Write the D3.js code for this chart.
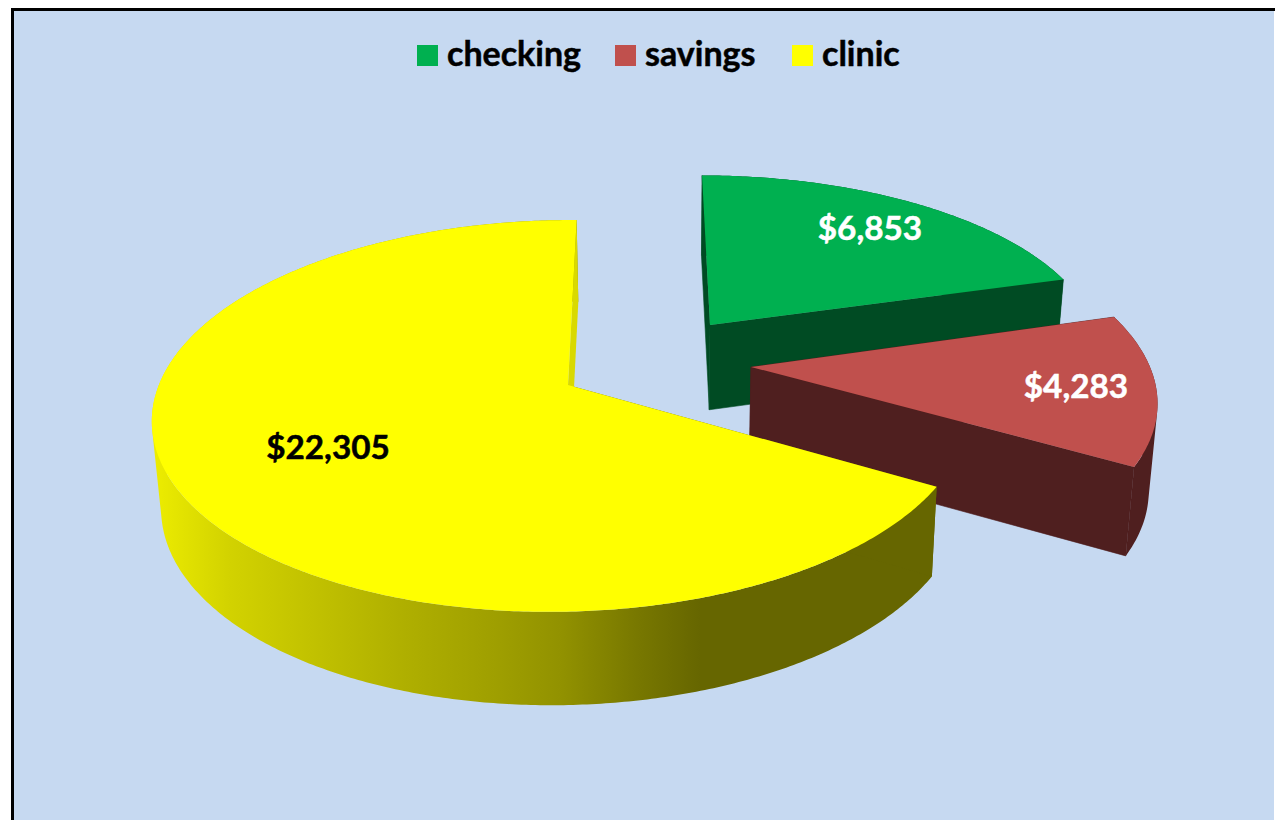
<!DOCTYPE html>
<html>
<head>
<meta charset="utf-8">
<script src="https://d3js.org/d3.v7.min.js"></script>
<style>
  html, body { margin: 0; padding: 0; background: #fff; }
  svg { display: block; }
  text { font-family: Lato, "Open Sans", sans-serif; font-weight: 700; stroke-width: 0.5; paint-order: stroke; }
</style>
</head>
<body>
<div id="chart"></div>
<script>
const categories = ["checking", "savings", "clinic"];
const values = [6853, 4283, 22305];
const colors = ["#00b050", "#c0504d", "#ffff00"];
const wallColors = ["#004b23", "#4f1f1f", "#666600"];
const labelColors = ["#ffffff", "#ffffff", "#000000"];

const width = 1275;
const height = 820;

const svg = d3.select("#chart")
    .append("svg")
    .attr("width", width)
    .attr("height", height);

// Background and the two visible frame lines
svg.append("rect").attr("width", width).attr("height", height).attr("fill", "#fff");
svg.append("rect")
    .attr("x", 12).attr("y", 9)
    .attr("width", 1262).attr("height", 811)
    .attr("fill", "#c6d9f1");
svg.append("path")
    .attr("d", "M12.5,820V9.5H1275")
    .attr("fill", "none")
    .attr("stroke", "#000")
    .attr("stroke-width", 3);

// Shaded side of the clinic slice
const defs = svg.append("defs");
const grad = defs.append("linearGradient")
    .attr("id", "clinicSide")
    .attr("gradientUnits", "userSpaceOnUse")
    .attr("x1", 150).attr("x2", 937).attr("y1", 0).attr("y2", 0);
[[155, "#ecec00"], [230, "#d2d200"], [300, "#c4c400"], [400, "#b0b000"], [500, "#9e9e00"], [560, "#929200"], [640, "#777700"], [700, "#666600"], [937, "#666600"]]
    .forEach(([x, c]) => grad.append("stop").attr("offset", (x - 150) / 787).attr("stop-color", c));

// Each exploded slice has its own perspective fit
const views = [
    { ax: 710, ay: 325, rx: 384, ry: 169, sx: 9, k: 0.13, m: 0 },
    { ax: 751, ay: 367, rx: 399, ry: 186, sx: 19, k: 0.145, m: 0 },
    { ax: 568, ay: 385, rx: 403, ry: 191, sx: -10, k: 0.158, m: 0.015 }
];

// Bottom rim: pulled towards a vanishing x, and deeper lower down the page
const vanishX = 670;
const shrink = 0.018;
const depthAt = y => 75 + 0.03 * y;
const lower = ([x, y]) => [x + (vanishX - x) * shrink, y + depthAt(y)];

function rim(v, a) {
    const X = Math.sin(a), Y = -Math.cos(a);
    const w = 1 - v.k * Y + v.m * X;
    return [v.ax + (v.rx * X + v.sx * Y) / w, v.ay + v.ry * Y / w];
}

const pie = d3.pie().sort(null).startAngle(0).endAngle(2 * Math.PI);
const arcs = pie(values);
const line = d3.line();

function arcPoints(v, a0, a1) {
    const n = Math.ceil((a1 - a0) / 0.01);
    return d3.range(n + 1).map(i => rim(v, a0 + (a1 - a0) * i / n));
}

// All quads wound the same way, so one path fills as their union with no seams
function sidePath(outer) {
    return d3.pairs(outer).map(([p, q]) => {
        const quad = [p, q, lower(q), lower(p)];
        return line(d3.polygonArea(quad) < 0 ? quad.reverse() : quad) + "Z";
    }).join("");
}

arcs.forEach((d, i) => {
    const v = views[i];
    const apex = [v.ax, v.ay];
    const outer = arcPoints(v, d.startAngle, d.endAngle);
    const g = svg.append("g").attr("class", categories[i]);
    const first = outer[0], last = outer[outer.length - 1];
    const isClinic = categories[i] === "clinic";

    // Outer curved wall
    g.append("path")
        .attr("d", sidePath(outer))
        .attr("fill", isClinic ? "url(#clinicSide)" : wallColors[i]);

    // Wall at the start angle and wall at the end angle
    g.append("path")
        .attr("d", line([first, lower(first), lower(apex), apex]) + "Z")
        .attr("fill", wallColors[i])
        .attr("stroke", isClinic ? "none" : wallColors[i])
        .attr("stroke-width", 0.6);
    g.append("path")
        .attr("d", line([last, lower(last), lower(apex), apex]) + "Z")
        .attr("fill", isClinic ? "#d9d900" : wallColors[i])
        .attr("stroke", isClinic ? "none" : wallColors[i])
        .attr("stroke-width", 0.6);

    // Top face
    g.append("path")
        .attr("d", line([apex].concat(outer)) + "Z")
        .attr("fill", colors[i]);
});

// Value labels
const labelX = [870, 1076, 328];
const labelY = [240, 398, 459];
svg.selectAll(".value")
    .data(values)
    .enter()
    .append("text")
    .attr("class", "value")
    .attr("x", (d, i) => labelX[i])
    .attr("y", (d, i) => labelY[i])
    .attr("text-anchor", "middle")
    .attr("font-size", 33.3)
    .attr("fill", (d, i) => labelColors[i])
    .attr("stroke", (d, i) => labelColors[i])
    .text(d => d3.format("$,")(d));

// Legend
const legendSwatchX = [417, 615, 792];
const legend = svg.selectAll(".legend")
    .data(categories)
    .enter()
    .append("g")
    .attr("class", "legend")
    .attr("transform", (d, i) => `translate(${legendSwatchX[i]},45)`);
legend.append("rect")
    .attr("width", 21).attr("height", 21)
    .attr("fill", (d, i) => colors[i]);
legend.append("text")
    .attr("x", 30)
    .attr("y", 21)
    .attr("font-size", 34)
    .attr("fill", "#000")
    .attr("stroke", "#000")
    .text(d => d);
</script>
</body>
</html>
